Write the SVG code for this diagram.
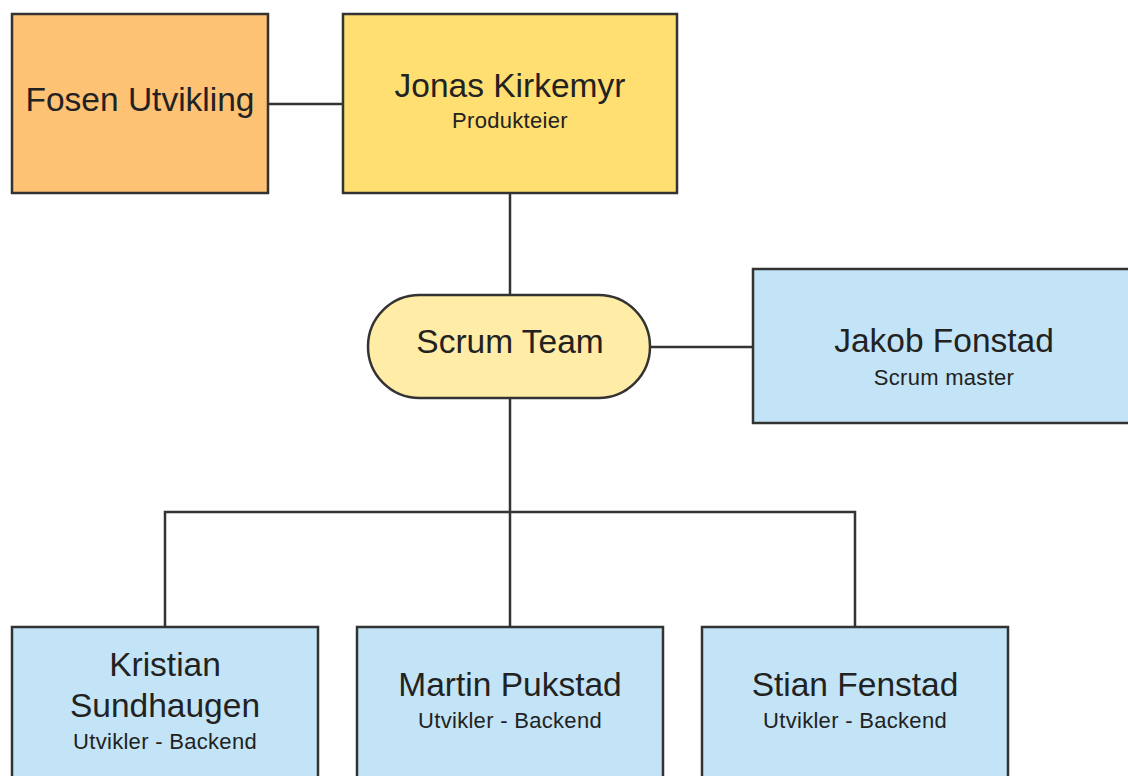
<svg xmlns="http://www.w3.org/2000/svg" width="1128" height="776" viewBox="0 0 1128 776">
  <style>
    .box { stroke: #333333; stroke-width: 2.5; }
    .orange { fill: #FDC274; }
    .yellow { fill: #FFDF71; }
    .pale { fill: #FFECA6; }
    .blue { fill: #C2E4F6; }
    .name { font-family: "Liberation Sans", Arial, sans-serif; font-size: 33.5px; fill: #222222; text-anchor: middle; }
    .role { font-family: "Liberation Sans", Arial, sans-serif; font-size: 22px; letter-spacing: 0.3px; fill: #222222; text-anchor: middle; }
    .link { fill: none; stroke: #333333; stroke-width: 2.5; }
  </style>
  <rect width="1128" height="776" fill="#ffffff"/>

  <g id="connectors">
    <line class="link" x1="268" y1="104" x2="343" y2="104"/>
    <line class="link" x1="510" y1="193" x2="510" y2="295"/>
    <line class="link" x1="650" y1="347" x2="753" y2="347"/>
    <line class="link" x1="510" y1="398" x2="510" y2="627"/>
    <polyline class="link" points="165,627 165,512 855,512 855,627"/>
  </g>

  <g id="fosen-utvikling">
    <rect class="box orange" x="12" y="14" width="256" height="179"/>
    <text class="name" x="140" y="111">Fosen Utvikling</text>
  </g>

  <g id="jonas-kirkemyr">
    <rect class="box yellow" x="343" y="14" width="334" height="179"/>
    <text class="name" x="510" y="97">Jonas Kirkemyr</text>
    <text class="role" x="510" y="128">Produkteier</text>
  </g>

  <g id="scrum-team">
    <rect class="box pale" x="368" y="295" width="282" height="103" rx="51.5" ry="51.5"/>
    <text class="name" x="510" y="353">Scrum Team</text>
  </g>

  <g id="jakob-fonstad">
    <rect class="box blue" x="753" y="269" width="390" height="154"/>
    <text class="name" x="944" y="352">Jakob Fonstad</text>
    <text class="role" x="944" y="385">Scrum master</text>
  </g>

  <g id="kristian-sundhaugen">
    <rect class="box blue" x="12" y="627" width="306" height="170"/>
    <text class="name" x="165" y="676">Kristian</text>
    <text class="name" x="165" y="717">Sundhaugen</text>
    <text class="role" x="165" y="749">Utvikler - Backend</text>
  </g>

  <g id="martin-pukstad">
    <rect class="box blue" x="357" y="627" width="306" height="170"/>
    <text class="name" x="510" y="696">Martin Pukstad</text>
    <text class="role" x="510" y="728">Utvikler - Backend</text>
  </g>

  <g id="stian-fenstad">
    <rect class="box blue" x="702" y="627" width="306" height="170"/>
    <text class="name" x="855" y="696">Stian Fenstad</text>
    <text class="role" x="855" y="728">Utvikler - Backend</text>
  </g>
</svg>
